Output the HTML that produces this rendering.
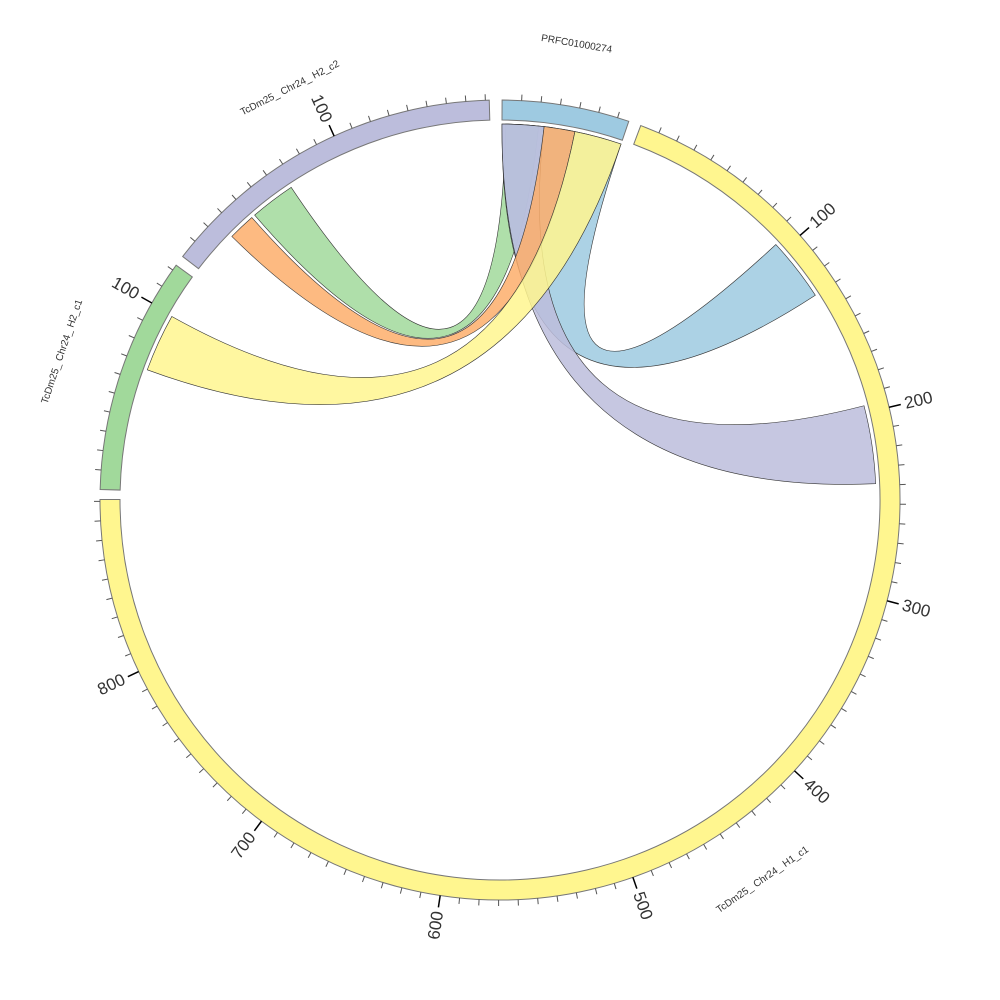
<!DOCTYPE html>
<html><head><meta charset="utf-8"><style>
html,body{margin:0;padding:0;background:#fff}
svg{display:block}
text{font-family:"Liberation Sans",sans-serif}
</style></head><body>
<svg id="chart" width="1000" height="1000" viewBox="0 0 1000 1000"></svg>
<script>
const sectorNames = ["PRFC01000274","TcDm25_ Chr24_ H1_c1","TcDm25_ Chr24_ H2_c1","TcDm25_ Chr24_ H2_c2"];
const sectorLengths = [66, 891, 123, 182];
const sectorStartDeg = [0.3, 20.6, 271.5, 307.5];
const sectorColors = ["#9ecae1","#fff68f","#a1d99b","#bcbddc"];
const chordSrcSector = [3, 0, 0, 3, 2];
const chordSrcStart = [42, 0, 0, 25, 67];
const chordSrcEnd = [67, 66, 23, 40, 99];
const chordDstSector = [0, 1, 1, 0, 0];
const chordDstStart = [2, 95, 196, 23, 40];
const chordDstEnd = [20, 130, 239, 40, 66];
const chordColors = ["#a1d99b","#9ecae1","#bcbddc","#fdae6b","#fff68f"];
const majorTickEvery = 100;
const minorTickEvery = 10;

const cx=500, cy=500, R0=380, R1=400, RC=376, S=0.28;
const svg=document.getElementById('chart');
const NS="http://www.w3.org/2000/svg";
function ang(sec,u){return sectorStartDeg[sec]+u*S;}
function pt(r,a){const t=a*Math.PI/180;return [cx+r*Math.sin(t), cy-r*Math.cos(t)];}
function mk(tag,attrs){const e=document.createElementNS(NS,tag);for(const k in attrs)e.setAttribute(k,attrs[k]);svg.appendChild(e);return e;}

for(let i=0;i<chordColors.length;i++){
  const a1=ang(chordSrcSector[i],chordSrcStart[i]), a2=ang(chordSrcSector[i],chordSrcEnd[i]);
  const b1=ang(chordDstSector[i],chordDstStart[i]), b2=ang(chordDstSector[i],chordDstEnd[i]);
  const p1=pt(RC,a1),p2=pt(RC,a2),q1=pt(RC,b1),q2=pt(RC,b2);
  const la=(a2-a1)>180?1:0, lb=(b2-b1)>180?1:0;
  const d=`M${p1} A${RC},${RC} 0 ${la} 1 ${p2} Q${cx},${cy} ${q1} A${RC},${RC} 0 ${lb} 1 ${q2} Q${cx},${cy} ${p1} Z`;
  const e=mk('path',{d:d,fill:chordColors[i],'fill-opacity':0.85,stroke:'#333','stroke-width':0.6});
  
  
}
for(let s=0;s<sectorNames.length;s++){
  const a1=sectorStartDeg[s], a2=a1+sectorLengths[s]*S;
  const la=(a2-a1)>180?1:0;
  const o1=pt(R1,a1),o2=pt(R1,a2),i2=pt(R0,a2),i1=pt(R0,a1);
  const e=mk('path',{d:`M${o1} A${R1},${R1} 0 ${la} 1 ${o2} L${i2} A${R0},${R0} 0 ${la} 0 ${i1} Z`,fill:sectorColors[s],stroke:'#777','stroke-width':1});
  
  
  for(let u=minorTickEvery;u<=sectorLengths[s];u+=minorTickEvery){
    const a=ang(s,u), major=(u%majorTickEvery===0);
    const t1=pt(R1,a), t2=pt(major?R1+12:R1+6,a);
    const tk=mk('line',{x1:t1[0],y1:t1[1],x2:t2[0],y2:t2[1],stroke:major?'#000':'#555','stroke-width':major?1.5:1});
    
    
    if(major){
      const p=pt(R1+16,a); const norm=((a%360)+360)%360;
      const right=norm<180;
      const rot=right?norm-90:norm+90;
      const tx=mk('text',{x:p[0],y:p[1],'font-size':17,fill:'#333','text-anchor':right?'start':'end','dominant-baseline':'central',transform:`rotate(${rot} ${p[0]} ${p[1]})`});
      tx.textContent=u;
      
      
    }
  }
  const mid=(a1+a2)/2, lp=pt(462,mid);
  const top=(mid<90||mid>270);
  const rot=top?mid:mid-180;
  const lt=mk('text',{x:lp[0],y:lp[1],'font-size':10,fill:'#333','text-anchor':'middle','dominant-baseline':'central',transform:`rotate(${rot} ${lp[0]} ${lp[1]})`});
  lt.textContent=sectorNames[s];
  
  
}
</script>
</body></html>
